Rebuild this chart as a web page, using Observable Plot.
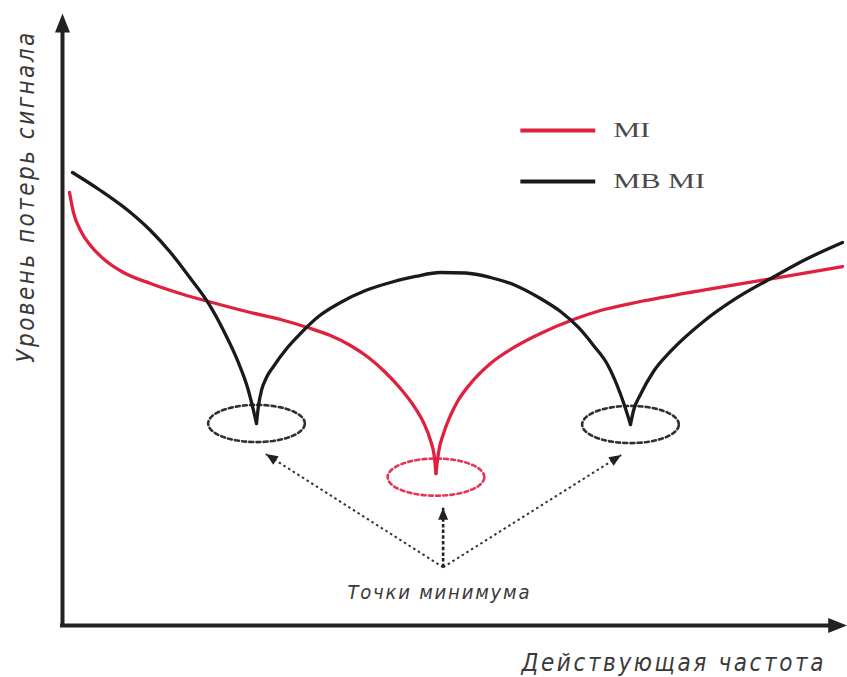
<!DOCTYPE html>
<html>
<head>
<meta charset="utf-8">
<script src="https://cdn.jsdelivr.net/npm/d3@7"></script>
<script src="https://cdn.jsdelivr.net/npm/@observablehq/plot@0.6"></script>
<style>
  body { margin: 0; background: #fff; }
  svg { display: block; }
</style>
</head>
<body>
<div id="chart"></div>
<script>
// Signal loss versus operating frequency, both in normalized units (0–100).
const miFreq = [0.90, 1.41, 2.31, 3.59, 5.51, 7.82, 11.28, 15.51, 18.72, 24.10, 27.95, 31.41, 34.36, 36.92, 39.23, 41.41, 43.33, 45.00, 46.28, 47.18, 47.69, 47.88,
                48.21, 48.85, 49.74, 50.64, 52.31, 54.87, 58.08, 61.28, 65.51, 68.97, 74.10, 81.79, 91.03, 100.0];
const miLoss = [72.17, 68.83, 65.83, 63.33, 60.83, 58.83, 57.00, 55.17, 54.00, 52.17, 51.00, 49.67, 48.33, 46.67, 44.67, 42.17, 39.50, 36.67, 33.83, 30.83, 28.00, 25.33,
                28.83, 32.00, 35.00, 37.33, 40.33, 43.67, 46.50, 48.67, 51.00, 52.50, 54.00, 55.83, 57.83, 59.83];
const mbmiFreq = [1.28, 4.87, 8.72, 11.28, 13.85, 16.41, 18.72, 20.64, 22.44, 23.72, 24.49, 24.87,
                  25.13, 25.51, 26.15, 27.05, 28.85, 30.51, 32.82, 35.64, 38.85, 42.05, 45.26, 48.46, 51.67, 54.87, 58.08, 61.28, 63.85, 66.15, 68.08, 69.87, 71.41, 72.05, 72.82,
                  73.21, 74.10, 75.77, 77.95, 82.18, 86.54, 91.03, 95.26, 100.0];
const mbmiLoss = [75.50, 72.50, 68.83, 65.83, 62.17, 57.83, 53.67, 49.17, 44.17, 39.67, 35.83, 33.67,
                  36.67, 39.17, 41.33, 43.17, 46.33, 48.67, 51.50, 53.83, 55.83, 57.17, 58.17, 58.83, 58.75, 58.00, 56.67, 54.50, 52.33, 49.67, 46.67, 43.50, 39.00, 36.67, 33.50,
                  35.83, 38.50, 42.33, 45.67, 50.67, 54.67, 58.00, 61.00, 63.83];

const seriesNames = ["MI", "MB MI"];
const seriesColors = ["#e0203f", "#1a1a1a"];
const yTitle = "Уровень потерь сигнала";
const xTitle = "Действующая частота";
const noteText = "Точки минимума";

// Split a curve into branches at its cusps (local minima); the cusp point is shared.
function branches(freq, loss, name) {
  const rows = [];
  const cusps = [];
  let seg = 0;
  for (let i = 0; i < freq.length; i++) {
    rows.push({name, seg: name + seg, f: freq[i], l: loss[i]});
    if (i > 0 && i < freq.length - 1 && loss[i] < loss[i - 1] && loss[i] < loss[i + 1]) {
      cusps.push({name, f: freq[i], l: loss[i]});
      seg++;
      rows.push({name, seg: name + seg, f: freq[i], l: loss[i]});
    }
  }
  return {rows, cusps};
}

const mi = branches(miFreq, miLoss, seriesNames[0]);
const mbmi = branches(mbmiFreq, mbmiLoss, seriesNames[1]);
const curveRows = [...mi.rows, ...mbmi.rows];
const cusps = [...mbmi.cusps, ...mi.cusps].sort((a, b) => a.f - b.f);

// Dashed ellipse outline around every cusp.
const ellRx = 6.2, ellRy = 3.1;
const ellipseRows = cusps.flatMap((c, k) =>
  d3.range(0, 73).map(i => {
    const t = (i / 72) * 2 * Math.PI;
    return {id: k, name: c.name, f: c.f + ellRx * Math.cos(t), l: c.l + ellRy * Math.sin(t) - (c.name === "MI" ? 0.6 : 0)};
  })
);

// Dotted pointers from the note up to each highlighted minimum.
const noteAt = {f: 48.8, l: 9.7};
const pointerRows = cusps.map(c => {
  const vertical = Math.abs(c.f - noteAt.f) < 2;
  return {
    vertical,
    f1: noteAt.f, l1: noteAt.l,
    f2: vertical ? noteAt.f : c.f + (c.f < noteAt.f ? 1.2 : -1.2),
    l2: c.l - ellRy - (vertical ? 2.6 : 2.0)
  };
});

const plotSize = {width: 847, height: 677, marginLeft: 62, marginRight: 5, marginTop: 25, marginBottom: 52};
const xScale = {domain: [0, 100], axis: null};
const yScale = {domain: [0, 100], axis: null};

// Screen-space direction of each pointer, taken from the plot's own scales.
const probe = Plot.plot({...plotSize, x: xScale, y: yScale, marks: []});
const sx = probe.scale("x"), sy = probe.scale("y");
const heading = d => {
  const dx = sx.apply(d.f2) - sx.apply(d.f1);
  const dy = sy.apply(d.l2) - sy.apply(d.l1);
  return Math.atan2(dx, -dy) * 180 / Math.PI;
};

// Axis ends (arrow tips).
const axisTop = 102, axisRight = 100.6;
const axisHeads = [{f: 0, l: axisTop, rot: 0}, {f: axisRight, l: 0, rot: 90}];

// Legend rows.
const legendRows = seriesNames.map((name, i) => ({name, l: [82.5, 74.0][i]}));
const legendWidths = [37, 92];

const label = s => () => s;

const chart = Plot.plot({
  ...plotSize,
  x: xScale,
  y: yScale,
  color: {domain: seriesNames, range: seriesColors},
  style: {background: "#fff", fontFamily: "DejaVu Sans"},
  marks: [
    // axes
    Plot.ruleX([0], {y1: 0, y2: axisTop - 2.5, stroke: "#222", strokeWidth: 4, strokeLinecap: "square"}),
    Plot.ruleY([0], {x1: 0, x2: axisRight - 1.8, stroke: "#222", strokeWidth: 4, strokeLinecap: "square"}),
    Plot.vector(axisHeads, {x: "f", y: "l", rotate: "rot", length: 19, r: 7.5, shape: "spike", anchor: "end", fill: "#222", stroke: "none"}),
    // highlight ellipses
    Plot.line(ellipseRows, {x: "f", y: "l", z: "id", stroke: "name", strokeWidth: 2.6, strokeDasharray: "4,3.2", strokeOpacity: 0.9}),
    // pointers
    Plot.link(pointerRows.filter(d => !d.vertical), {x1: "f1", y1: "l1", x2: "f2", y2: "l2", stroke: "#333", strokeWidth: 2, strokeDasharray: "2.5,3"}),
    Plot.link(pointerRows.filter(d => d.vertical), {x1: "f1", y1: "l1", x2: "f2", y2: "l2", stroke: "#222", strokeWidth: 2.6, strokeDasharray: "3.5,2.2"}),
    Plot.vector(pointerRows, {x: "f2", y: "l2", rotate: heading, length: 12, r: 5, shape: "spike", anchor: "end", fill: "#222", stroke: "none"}),
    // curves
    Plot.line(curveRows, {x: "f", y: "l", z: "seg", stroke: "name", strokeWidth: 3.3, curve: "monotone-x"}),
    // legend
    Plot.link(legendRows, {x1: 58.7, x2: 68.3, y1: "l", y2: "l", stroke: "name", strokeWidth: 3.8}),
    Plot.text(legendRows, {x: 70.6, y: "l", text: "name", textAnchor: "start", fill: "#4a4a4a", fontFamily: "Liberation Serif", fontSize: 20, ariaLabel: (d, i) => "legend-" + i}),
    // titles and note
    Plot.text([yTitle], {x: -4.6, y: 71.3, text: d => d, rotate: -90, fill: "#3a3a3a", fontFamily: "DejaVu Sans Condensed", fontSize: 24, fontStyle: "italic", ariaLabel: label("y-title")}),
    Plot.text([xTitle], {x: 78.2, y: -6.3, text: d => d, fill: "#3a3a3a", fontFamily: "DejaVu Sans Condensed", fontSize: 24, fontStyle: "italic", ariaLabel: label("x-title")}),
    Plot.text([noteText], {x: 48.2, y: 5.5, text: d => d, fill: "#3a3a3a", fontFamily: "DejaVu Sans Condensed", fontSize: 20, fontStyle: "italic", ariaLabel: label("note")})
  ]
});

// Text run lengths.
const svg = d3.select(chart);
svg.select('text[aria-label="y-title"]').attr("textLength", 330).attr("lengthAdjust", "spacing");
svg.select('text[aria-label="x-title"]').attr("textLength", 302).attr("lengthAdjust", "spacing");
svg.select('text[aria-label="note"]').attr("textLength", 182).attr("lengthAdjust", "spacing");
legendWidths.forEach((w, i) =>
  svg.select(`text[aria-label="legend-${i}"]`).attr("textLength", w).attr("lengthAdjust", "spacingAndGlyphs"));

document.getElementById("chart").append(chart);
</script>
</body>
</html>
